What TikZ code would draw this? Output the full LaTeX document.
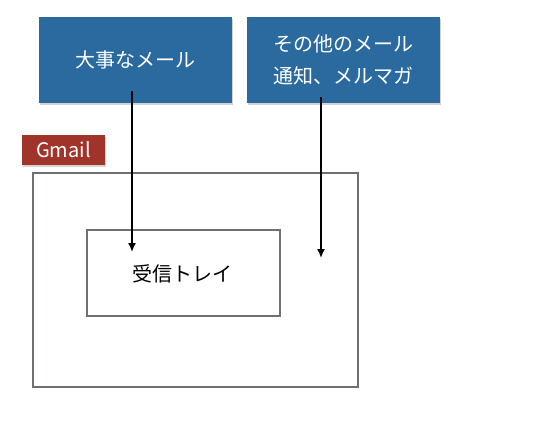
\documentclass[tikz,border=0pt]{standalone}
\usepackage{fontspec}
\setmainfont{Noto Sans CJK JP}
\usetikzlibrary{shadows,arrows.meta}
\definecolor{mailblue}{HTML}{2A6A9E}
\definecolor{gmailred}{HTML}{A0342B}
\definecolor{frame}{HTML}{6F7074}

\begin{document}
\begin{tikzpicture}[x=1pt,y=-1pt, every node/.style={font=\fontsize{20}{32}\selectfont},
    mailbox/.style={fill=mailblue,text=white,minimum width=193pt,minimum height=86pt,align=center,inner sep=0pt,
      drop shadow={shadow xshift=1pt,shadow yshift=-1.5pt,opacity=.35}},
    tag/.style={fill=gmailred,text=white,minimum width=83pt,minimum height=30pt,inner sep=0pt,
      drop shadow={shadow xshift=1pt,shadow yshift=-1.5pt,opacity=.35}},
    area/.style={draw=frame,line width=1.4pt,inner sep=0pt},
    arr/.style={-{Latex[length=9pt,width=8pt]},line width=1.6pt,black}]
    \useasboundingbox (0,0) rectangle (550,423);
    \node[area,minimum width=325pt,minimum height=214pt] (gmail) at (195.5,280) {};
    \node[area,minimum width=193pt,minimum height=86pt] (inbox) at (183.5,273) {};
    \node (inboxtext) at (182,274) {受信トレイ};
    \node[mailbox] (imp) at (135.5,60) {大事なメール};
    \node[mailbox] (other) at (343.5,60) {その他のメール\\通知、メルマガ};
    \node[tag] (label) at (63.5,150) {Gmail};
    \coordinate (p1) at (132,252);
    \coordinate (p2) at (321,258);
    \draw[arr] ([xshift=-3.5pt,yshift=12pt]imp.south) -- (p1);
    \draw[arr] ([xshift=-22.5pt,yshift=6pt]other.south) -- (p2);
  \end{tikzpicture}
\end{document}
